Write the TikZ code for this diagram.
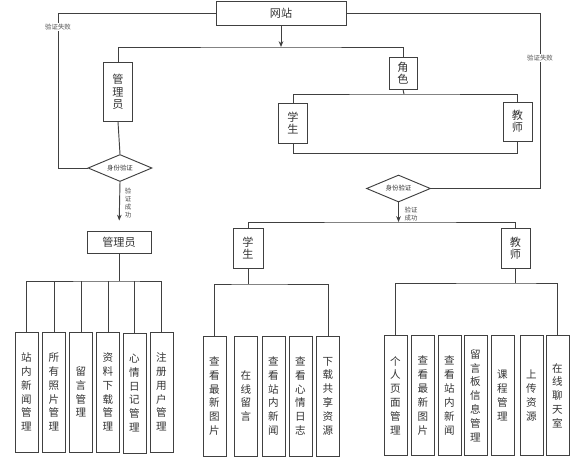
\documentclass[tikz,border=0pt]{standalone}
\usepackage{fontspec}
\setmainfont{Noto Sans CJK SC}
\usetikzlibrary{shapes.geometric,arrows.meta}

\tikzset{
  line/.style={draw=black!75, line width=0.8pt},
  box/.style={rectangle, draw=black!75, text=black!80, line width=0.8pt, inner sep=0pt, align=center, font=\fontsize{9.5}{10.6}\selectfont},
  vbox/.style={box, minimum width=0.69cm, minimum height=3.6cm, font=\fontsize{9}{11.8}\selectfont},
  decide/.style={diamond, draw=black!75, text=black!80, line width=0.8pt, inner sep=0pt, aspect=2.4, minimum width=1.92cm, minimum height=0.81cm, font=\fontsize{5.5}{6}\selectfont},
  tag/.style={font=\fontsize{5.5}{6.5}\selectfont, text=black!70, inner sep=1pt, align=center}
}

\begin{document}
\begin{tikzpicture}[x=0.03cm, y=-0.03cm]
        \useasboundingbox (0,0) rectangle (585,469);

        % Top
        \node[box, minimum width=3.9cm, minimum height=0.72cm] (site) at (281,13) {网站};
        \node[box, minimum width=0.87cm, minimum height=1.77cm] (adminV) at (118,92) {管\\理\\员};
        \node[box, minimum width=0.84cm, minimum height=0.96cm] (role) at (403,73) {角\\色};
        \node[box, minimum width=0.87cm, minimum height=1.2cm] (stuA) at (293,123) {学\\生};
        \node[box, minimum width=0.87cm, minimum height=1.17cm] (teaA) at (517.5,121.5) {教\\师};

        % Identity check
        \node[decide] (authA) at (120,168) {身份验证};
        \node[decide] (authB) at (398.5,188.5) {身份验证};

        % Second level
        \node[box, minimum width=1.92cm, minimum height=0.66cm] (adminH) at (119,242) {管理员};
        \node[box, minimum width=0.9cm, minimum height=1.2cm] (stuB) at (248,248) {学\\生};
        \node[box, minimum width=0.87cm, minimum height=1.2cm] (teaB) at (515.5,248) {教\\师};

        % Admin functions
        \node[vbox] (a1) at (26.5,392) {站\\内\\新\\闻\\管\\理};
        \node[vbox] (a2) at (54,392) {所\\有\\照\\片\\管\\理};
        \node[vbox] (a3) at (81,392) {留\\言\\管\\理};
        \node[vbox] (a4) at (108,392) {资\\料\\下\\载\\管\\理};
        \node[vbox] (a5) at (134.5,393) {心\\情\\日\\记\\管\\理};
        \node[vbox] (a6) at (161.5,392) {注\\册\\用\\户\\管\\理};

        % Student functions
        \node[vbox] (s1) at (214.5,396) {查\\看\\最\\新\\图\\片};
        \node[vbox] (s2) at (246,396) {在\\线\\留\\言};
        \node[vbox] (s3) at (273.5,396) {查\\看\\站\\内\\新\\闻};
        \node[vbox] (s4) at (300.5,396) {查\\看\\心\\情\\日\\志};
        \node[vbox] (s5) at (328,396) {下\\载\\共\\享\\资\\源};

        % Teacher functions
        \node[vbox] (t1) at (395.5,395.5) {个\\人\\页\\面\\管\\理};
        \node[vbox] (t2) at (423,395.5) {查\\看\\最\\新\\图\\片};
        \node[vbox] (t3) at (449.5,395.5) {查\\看\\站\\内\\新\\闻};
        \node[vbox] (t4) at (475.5,395.5) {留\\言\\板\\信\\息\\管\\理};
        \node[vbox] (t5) at (502.5,395.5) {课\\程\\管\\理};
        \node[vbox] (t6) at (531.5,395.5) {上\\传\\资\\源};
        \node[vbox] (t7) at (557.5,395.5) {在\\线\\聊\\天\\室};

        % Junctions
        \coordinate (split) at (281,47);
        \coordinate (rolebar) at (404,94);
        \coordinate (lcorner) at (58,168);
        \coordinate (rcorner) at (540,188.5);
        \coordinate (sbar) at (398.5,222);
        \coordinate (abar) at (119,281);
        \coordinate (mbar) at (248,284);
        \coordinate (tbar) at (515.5,283);

        % Connections
        \draw[line, -{Stealth[length=5pt,width=4pt]}] (site.south) -- (split);
        \draw[line] (adminV.north) |- (split) -| (role.north);
        \draw[line] (role.south) -- (rolebar);
        \draw[line] (stuA.north) |- (rolebar) -| (teaA.north);
        \draw[line] (stuA.south) -- ++(0,10) -| (teaA.south);
        \draw[line] (adminV.south) -- (authA.north);

        \draw[line] (site.west) -| (lcorner) -- (authA.west);
        \node[tag, fill=white] (lfail) at (58,27) {验证失败};
        \draw[line] (site.east) -| (rcorner) -- (authB.east);
        \node[tag, fill=white] (rfail) at (540,58) {验证失败};

        \draw[line, -{Stealth[length=5pt,width=4pt]}, shorten >=0.3cm] (authA.south) -- (adminH.north);
        \node[tag, font=\fontsize{5.5}{6.8}\selectfont] (lok) at (128,203) {验\\证\\成\\功};
        \draw[line, -{Stealth[length=5pt,width=4pt]}] (authB.south) -- (sbar);
        \node[tag] (rok) at (411,214) {验证\\成功};
        \draw[line] (stuB.north) |- (sbar) -| (teaB.north);

        \draw[line] (adminH.south) -- (abar);
        \draw[line] (a1.north) |- (abar) -| (a6.north);
        \draw[line] (a2.north) -- (a2.north |- abar);
        \draw[line] (a3.north) -- (a3.north |- abar);
        \draw[line] (a4.north) -- (a4.north |- abar);
        \draw[line] (a5.north) -- (a5.north |- abar);

        \draw[line] (stuB.south) -- (mbar);
        \draw[line] (s1.north) |- (mbar) -| (s5.north);

        \draw[line] (teaB.south) -- (tbar);
        \draw[line] (t1.north) |- (tbar) -| (t7.north);
\end{tikzpicture}
\end{document}
